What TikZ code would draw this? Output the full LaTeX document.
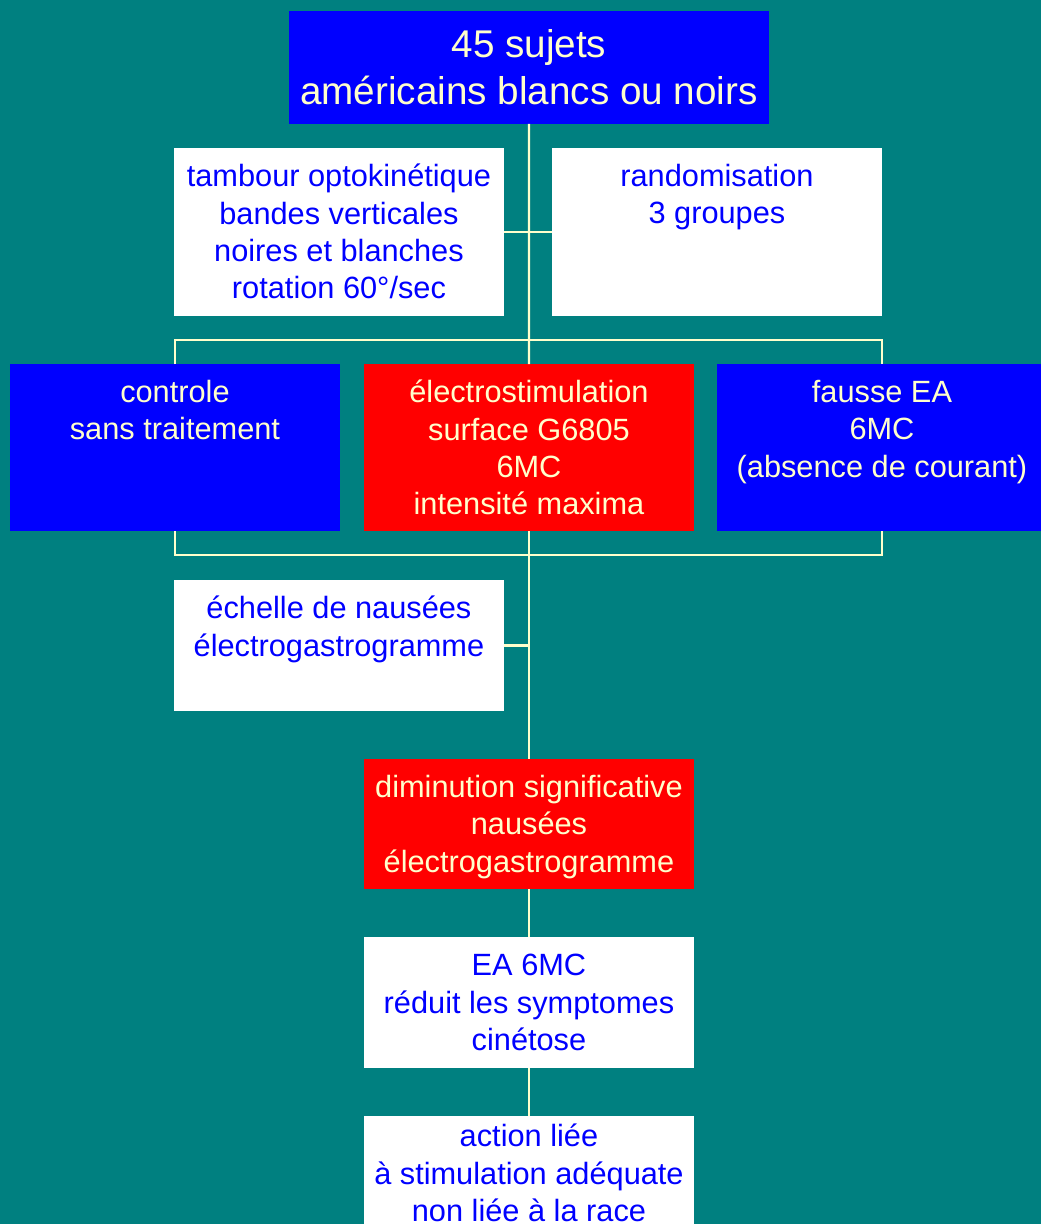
\documentclass[tikz,border=0pt]{standalone}
\usepackage{fontspec}
\setmainfont{Liberation Sans}
\usetikzlibrary{positioning}
\definecolor{bgteal}{RGB}{0,128,128}
\definecolor{cream}{RGB}{255,255,204}
\definecolor{pblue}{RGB}{0,0,255}
\definecolor{pred}{RGB}{255,0,0}

\begin{document}
\begin{tikzpicture}[x=0.02cm, y=-0.02cm,
    box/.style = {fill=#1, minimum width=6.6cm, inner sep=0pt,
                outer sep=0pt, anchor=north west},
    box/.default = white,
    txt/.style = {text=#1, align=center, inner sep=0pt,
                font=\fontsize{17.5}{21.26}\selectfont,
                execute at begin node=\rule{0pt}{1em}},
    txt/.default = pblue,
    link/.style = {draw=cream, line width=1.2pt}
                    ]
        \useasboundingbox (0,0) rectangle (1041,1224);
        \fill[bgteal] (0,0) rectangle (1041,1224);
        % boxes
        \node[box=pblue, minimum width=9.6cm, minimum height=2.26cm] at (289,11) (top) {};
        \node[box, minimum height=3.36cm] at (174,148) (tamb) {};
        \node[box, minimum height=3.36cm] at (552,148) (rand) {};
        \node[box=pblue, minimum height=3.34cm] at (10,364) (ctrl) {};
        \node[box=pred, minimum height=3.34cm] at (364,364) (elec) {};
        \node[box=pblue, minimum height=3.34cm] at (717,364) (fake) {};
        \node[box, minimum height=2.62cm] at (174,580) (scale) {};
        \node[box=pred, minimum height=2.6cm] at (364,759) (drop) {};
        \node[box, minimum height=2.62cm] at (364,937) (ea) {};
        \node[box, minimum height=3cm] at (364,1116) (act) {};
        % connectors
        \draw[link] (top.south) -- (elec.north);
        \draw[link] (tamb.east) -- (rand.west);
        \draw[link] (ctrl.north) -- ++(0,-24) -| (fake.north);
        \draw[link] (ctrl.south) -- ++(0,24) -| (fake.south);
        \draw[link] (elec.south) -- (drop.north);
        \draw[link] (scale.east) -- (scale.east -| elec.south);
        \draw[link] (drop.south) -- (ea.north);
        \draw[link] (ea.south) -- (act.north);
        % texts
        \node[txt=cream, font=\fontsize{22}{26.6}\selectfont, below=0.36cm of top.north] (top-t)
            {45 sujets\\américains blancs ou noirs};
        \node[txt, below=0.316cm of tamb.north] (tamb-t)
            {tambour optokinétique\\bandes verticales\\noires et blanches\\rotation 60°/sec};
        \node[txt, below=0.316cm of rand.north] (rand-t) {randomisation\\3 groupes};
        \node[txt=cream, below=0.316cm of ctrl.north] (ctrl-t) {controle\\sans traitement};
        \node[txt=cream, below=0.316cm of elec.north] (elec-t)
            {électrostimulation\\surface G6805\\6MC\\intensité maxima};
        \node[txt=cream, below=0.316cm of fake.north] (fake-t)
            {fausse EA\\6MC\\(absence de courant)};
        \node[txt, below=0.316cm of scale.north] (scale-t)
            {échelle de nausées\\électrogastrogramme};
        \node[txt=cream, below=0.316cm of drop.north] (drop-t)
            {diminution significative\\nausées\\électrogastrogramme};
        \node[txt, below=0.34cm of ea.north] (ea-t)
            {EA 6MC\\réduit les symptomes\\cinétose};
        \node[txt, below=0.156cm of act.north] (act-t)
            {action liée\\à stimulation adéquate\\non liée à la race};
    \end{tikzpicture}
\end{document}
